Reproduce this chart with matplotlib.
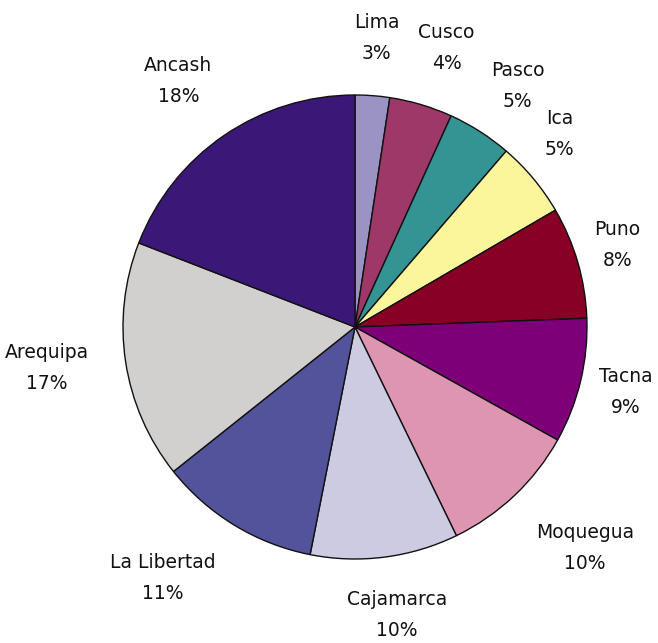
import numpy as np
import matplotlib
matplotlib.use("Agg")
import matplotlib.pyplot as plt

regions = ["Lima", "Cusco", "Pasco", "Ica", "Puno", "Tacna", "Moquegua",
           "Cajamarca", "La Libertad", "Arequipa", "Ancash"]
values = [2.4, 4.4, 4.5, 5.3, 7.8, 8.7, 9.7, 10.3, 11.2, 16.6, 19.1]
pct_labels = ["3%", "4%", "5%", "5%", "8%", "9%", "10%", "10%", "11%", "17%", "18%"]
colors = ["#9C93C5", "#9E3869", "#349494", "#FBF59B", "#880024", "#7D0079",
          "#DE95B2", "#CDCBE2", "#52539A", "#D1D0CE", "#3B1877"]

# layout (pixels)
W, H = 658, 643
cx, cy, R = 355, H - 327, 232
label_dist = [290, 294, 291, 281, 275, 278, 319, 291, 316, 311, 303]
label_ang_off = [0, 1.6, 1.4, -3.5, -1.1, 0, -2.7, -0.9, 6.1, 1.0, -1.3]

fig = plt.figure(figsize=(W / 100, H / 100), dpi=100)
ax = fig.add_axes([0, 0, 1, 1])

wedges, _ = ax.pie(values, colors=colors, startangle=90, counterclock=False,
                   center=(cx, cy), radius=R,
                   wedgeprops=dict(edgecolor="#111111", linewidth=1.0))
ax.set_xlim(0, W)
ax.set_ylim(0, H)
ax.set_aspect("auto")
ax.axis("off")

for w, name, pct, d, off in zip(wedges, regions, pct_labels, label_dist, label_ang_off):
    mid = np.deg2rad((w.theta1 + w.theta2) / 2 - off)
    x = cx + d * np.cos(mid)
    y = cy + d * np.sin(mid)
    ax.text(x, y, f"{name}\n{pct}", ha="center", va="center", fontsize=13.5,
            family="DejaVu Sans", linespacing=1.8, color="#111111")

fig.savefig("out.png", dpi=100)
